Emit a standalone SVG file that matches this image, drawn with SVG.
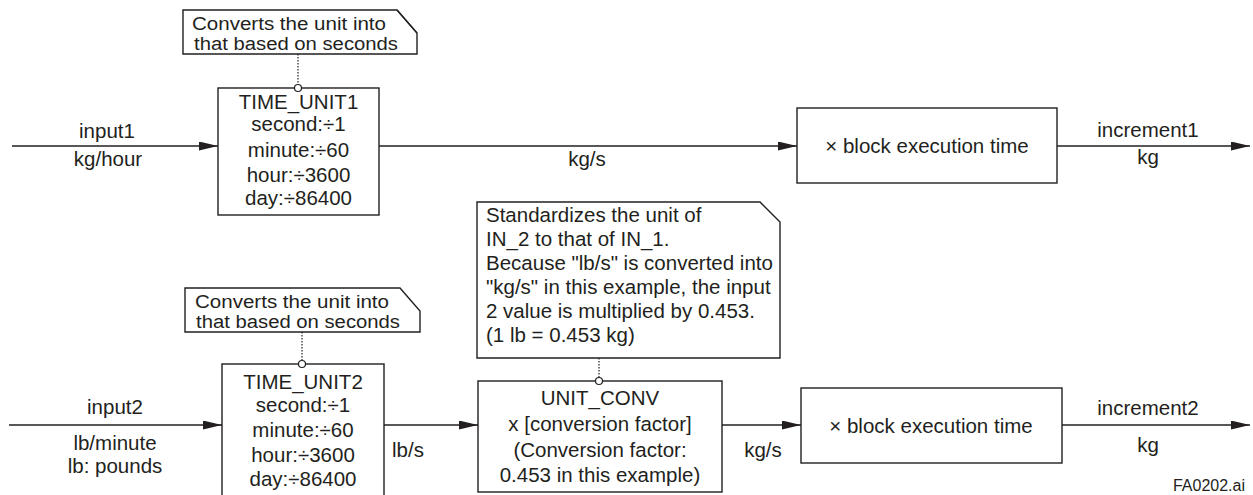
<svg xmlns="http://www.w3.org/2000/svg" width="1253" height="495" viewBox="0 0 1253 495">
<style>
.t{font-family:"Liberation Sans",Arial,sans-serif;font-size:20.5px;fill:#231f20}
.n{font-size:18px}
.c{text-anchor:middle}
.box{fill:#fff;stroke:#231f20;stroke-width:1.4}
.ln{fill:none;stroke:#231f20;stroke-width:1.4}
.dot{fill:none;stroke:#231f20;stroke-width:1.2;stroke-dasharray:1.5 1.5}
.pin{fill:#fff;stroke:#231f20;stroke-width:1.2}
</style>
<defs>
<marker id="ah" markerUnits="userSpaceOnUse" markerWidth="20" markerHeight="10" refX="19" refY="4.5" orient="auto">
<path d="M0,0 L19,4.5 L0,9 Z" fill="#231f20"/>
</marker>
</defs>
<rect width="1253" height="495" fill="#fff"/>
<g id="connectors">
<line class="ln" x1="12" y1="146" x2="218" y2="146" marker-end="url(#ah)"/>
<line class="ln" x1="379" y1="146" x2="797" y2="146" marker-end="url(#ah)"/>
<line class="ln" x1="1057" y1="146" x2="1250" y2="146" marker-end="url(#ah)"/>
<line class="ln" x1="9" y1="425" x2="222" y2="425" marker-end="url(#ah)"/>
<line class="ln" x1="384" y1="425" x2="478" y2="425" marker-end="url(#ah)"/>
<line class="ln" x1="722" y1="425" x2="801" y2="425" marker-end="url(#ah)"/>
<line class="ln" x1="1062" y1="425" x2="1250" y2="425" marker-end="url(#ah)"/>
<line class="dot" x1="298" y1="54" x2="298" y2="85"/>
<line class="dot" x1="302" y1="332" x2="302" y2="361"/>
<line class="dot" x1="599" y1="358" x2="599" y2="377"/>
<text class="t c" x="107" y="138">input1</text>
<text class="t c" x="108" y="166">kg/hour</text>
<text class="t c" x="587" y="166">kg/s</text>
<text class="t c" x="1148" y="137">increment1</text>
<text class="t c" x="1148" y="164">kg</text>
<text class="t c" x="115" y="414">input2</text>
<text class="t c" x="115" y="450">lb/minute</text>
<text class="t c" x="115" y="473">lb: pounds</text>
<text class="t c" x="408" y="457">lb/s</text>
<text class="t c" x="763" y="457">kg/s</text>
<text class="t c" x="1148" y="415">increment2</text>
<text class="t c" x="1148" y="452">kg</text>
<text class="t" x="1245" y="491" text-anchor="end" style="font-size:16px">FA0202.ai</text>
</g>
<g id="note1">
<path class="box" d="M183,10 H397 L417,33 V54 H183 Z"/>
<path class="ln" d="M397,10 L417,33" style="stroke-width:1.2"/>
<text class="t n" x="192" y="29.5" textLength="194" lengthAdjust="spacingAndGlyphs">Converts the unit into</text>
<text class="t n" x="194" y="50" textLength="204" lengthAdjust="spacingAndGlyphs">that based on seconds</text>
</g>
<g id="time_unit1">
<rect class="box" x="218" y="88" width="161" height="127"/>
<circle class="pin" cx="298" cy="88" r="3.5"/>
<text class="t c" x="298.5" y="109">TIME_UNIT1</text>
<text class="t c" x="298.5" y="131">second:÷1</text>
<text class="t c" x="298.5" y="157">minute:÷60</text>
<text class="t c" x="298.5" y="182">hour:÷3600</text>
<text class="t c" x="298.5" y="205">day:÷86400</text>
</g>
<g id="block1">
<rect class="box" x="797" y="108" width="260" height="75"/>
<text class="t c" x="927" y="153">× block execution time</text>
</g>
<g id="note2">
<path class="box" d="M185,288 H400 L420,311 V332 H185 Z"/>
<text class="t n" x="195" y="307.5" textLength="194" lengthAdjust="spacingAndGlyphs">Converts the unit into</text>
<text class="t n" x="196" y="328" textLength="204" lengthAdjust="spacingAndGlyphs">that based on seconds</text>
</g>
<g id="time_unit2">
<rect class="box" x="222" y="364" width="162" height="140"/>
<circle class="pin" cx="302" cy="364" r="3.5"/>
<text class="t c" x="303" y="389">TIME_UNIT2</text>
<text class="t c" x="303" y="412">second:÷1</text>
<text class="t c" x="303" y="437">minute:÷60</text>
<text class="t c" x="303" y="462">hour:÷3600</text>
<text class="t c" x="303" y="486">day:÷86400</text>
</g>
<g id="note3">
<path class="box" d="M477,202 H760 L780,222 V358 H477 Z"/>
<text class="t" x="486" y="222">Standardizes the unit of</text>
<text class="t" x="486" y="246">IN_2 to that of IN_1.</text>
<text class="t" x="486" y="270">Because "lb/s" is converted into</text>
<text class="t" x="486" y="294">"kg/s" in this example, the input</text>
<text class="t" x="486" y="318">2 value is multiplied by 0.453.</text>
<text class="t" x="486" y="342">(1 lb = 0.453 kg)</text>
</g>
<g id="unit_conv">
<rect class="box" x="478" y="381" width="244" height="111"/>
<circle class="pin" cx="599" cy="381" r="3.5"/>
<text class="t c" x="600" y="405">UNIT_CONV</text>
<text class="t c" x="600" y="431">x [conversion factor]</text>
<text class="t c" x="600" y="457">(Conversion factor:</text>
<text class="t c" x="600" y="482">0.453 in this example)</text>
</g>
<g id="block2">
<rect class="box" x="801" y="388" width="261" height="75"/>
<text class="t c" x="931" y="433">× block execution time</text>
</g>
</svg>
